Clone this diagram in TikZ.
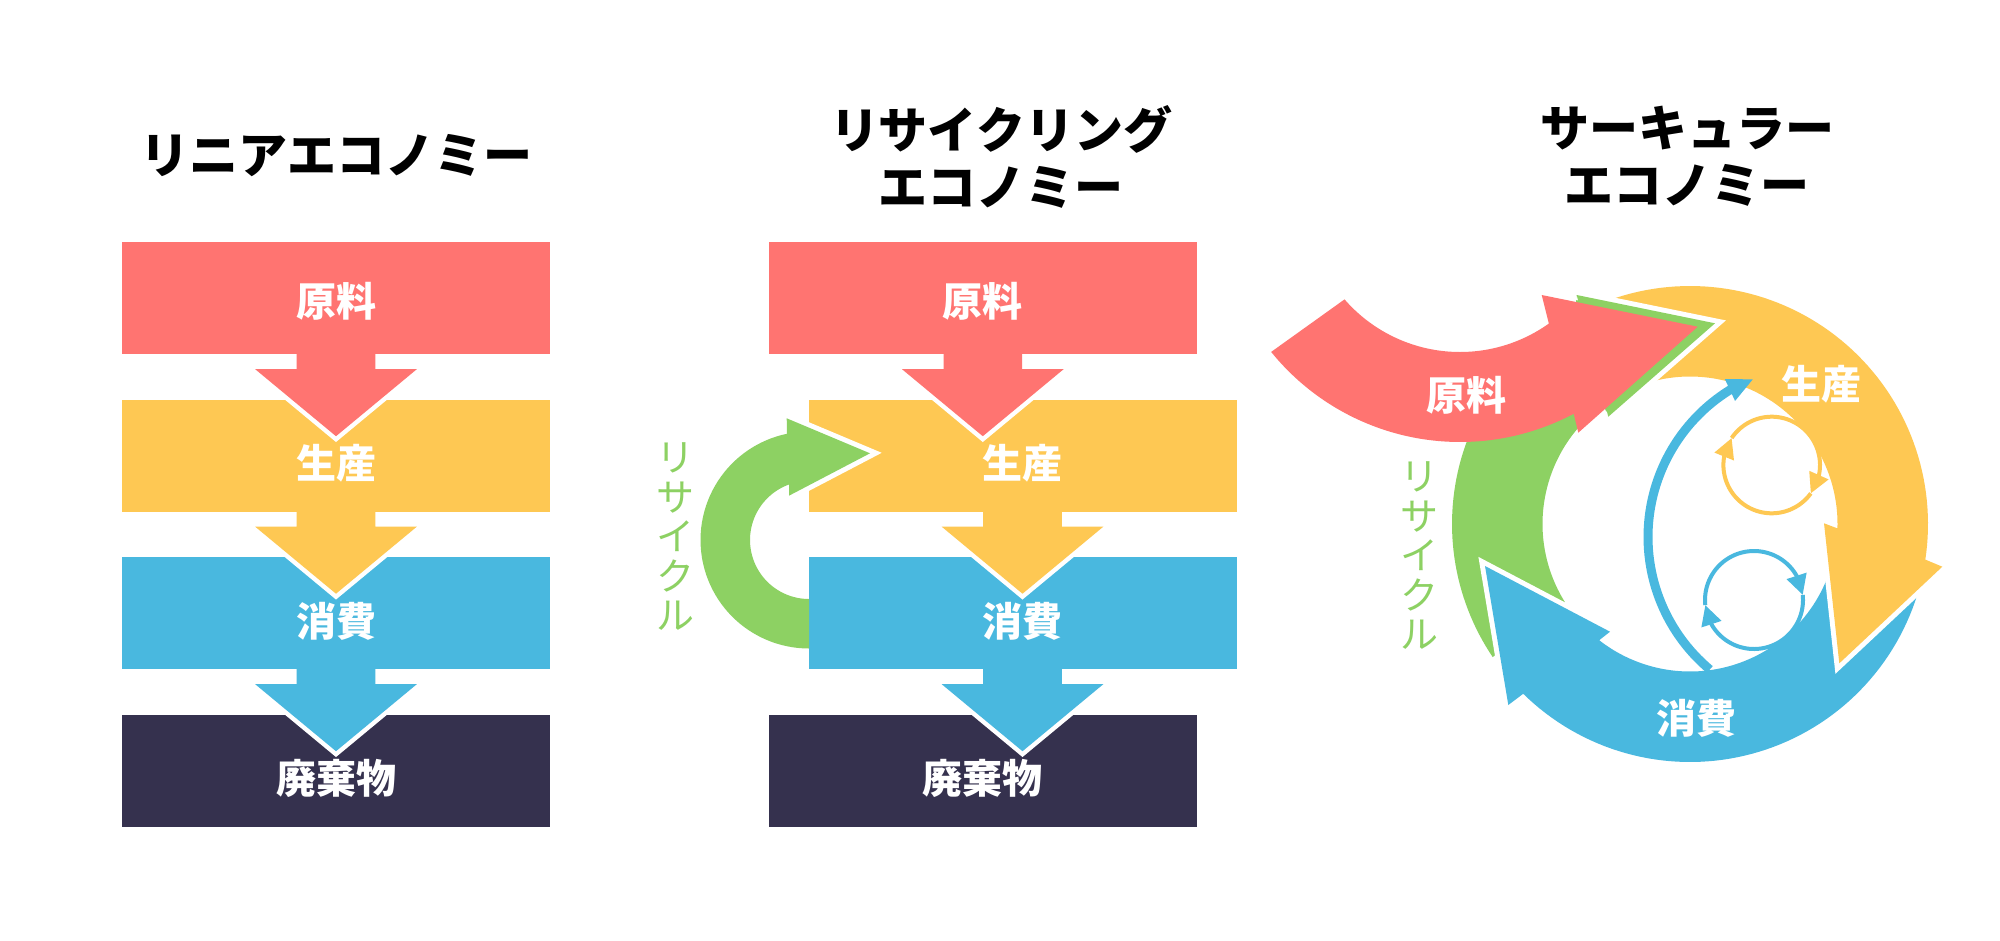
\documentclass[tikz,border=0pt]{standalone}
\usepackage{fontspec}
\newfontfamily\jp{Noto Sans CJK JP}
\usetikzlibrary{calc,arrows.meta}
\definecolor{cRed}{HTML}{FF7471}
\definecolor{cYel}{HTML}{FEC853}
\definecolor{cBlu}{HTML}{49B8DF}
\definecolor{cNav}{HTML}{35314E}
\definecolor{cGrn}{HTML}{8DD163}
\tikzset{
  box/.style={minimum width=428pt, minimum height=112pt, inner sep=0pt},
  ttl/.style={align=center, inner sep=0pt, text=black, font=\jp\bfseries\fontsize{49pt}{57pt}\selectfont},
  lbl/.style={inner sep=0pt, text=white, font=\jp\bfseries\fontsize{40pt}{40pt}\selectfont},
  vtxt/.style={align=center, inner sep=0pt, text=cGrn, font=\jp\fontsize{38pt}{39.5pt}\selectfont},
  rim/.style={white, line width=10pt, line join=miter},
}
\newcommand\flowarr[2]{%
  \draw[white, line width=9pt, line join=miter] ($(#1.south)+(-80.8,15)$) -- ($(#1.south)+(0,82)$) -- ($(#1.south)+(80.8,15)$);
  \fill[#2] ($(#1.south)+(-39.3,-1)$) -- ($(#1.south)+(-39.3,15)$) -- ($(#1.south)+(-80.8,15)$) -- ($(#1.south)+(0,82)$) -- ($(#1.south)+(80.8,15)$) -- ($(#1.south)+(39.3,15)$) -- ($(#1.south)+(39.3,-1)$) -- cycle;
}
\begin{document}
\begin{tikzpicture}[x=1pt,y=-1pt]
\useasboundingbox (0,0) rectangle (2000,940);
\fill[white] (0,0) rectangle (2000,940);

% titles
\node[ttl] (h1) at (336,156) {リニアエコノミー};
\node[ttl] (h2) at (1001,156.5) {リサイクリング\\エコノミー};
\node[ttl] (h3) at (1687,156.5) {サーキュラー\\エコノミー};

% ---------- panel 1: linear ----------
\node[box, fill=cRed] (a1) at (336,298) {};
\node[box, fill=cYel] (a2) at (336,455.5) {};
\node[box, fill=cBlu] (a3) at (336,613) {};
\node[box, fill=cNav] (a4) at (336,770.5) {};
\flowarr{a1}{cRed}
\flowarr{a2}{cYel}
\flowarr{a3}{cBlu}
\node[lbl] (la1) at ($(a1)+(0,3)$) {原料};
\node[lbl] (la2) at ($(a2)+(0,8)$) {生産};
\node[lbl] (la3) at ($(a3)+(0,8)$) {消費};
\node[lbl] (la4) at ($(a4)+(0,8)$) {廃棄物};

% ---------- panel 2: recycling ----------
\node[box, fill=cRed] (b1) at (982.8,298) {};
\node[box, fill=cYel] (b2) at (1022.5,455.5) {};
\node[box, fill=cBlu] (b3) at (1022.5,613) {};
\node[box, fill=cNav] (b4) at (982.8,770.5) {};
\flowarr{b1}{cRed}
\flowarr{b2}{cYel}
\flowarr{b3}{cBlu}
% recycle arrow
\coordinate (gbt) at (786.7,418.3);
\coordinate (gtip) at (870,453.3);
\coordinate (gbb) at (789,495.7);
\draw[rim] (gbt) -- (gtip) -- (gbb);
\fill[cGrn] plot[domain=90:258.3, samples=60, variable=\t] ({809+108.5*cos(\t)},{540+108.5*sin(\t)})
  -- (gbt) -- (gtip) -- (gbb)
  -- plot[domain=250.2:90, samples=60, variable=\t] ({809+59*cos(\t)},{540+59*sin(\t)}) -- cycle;
\node[lbl] (lb1) at ($(b1)+(0,3)$) {原料};
\node[lbl] (lb2) at ($(b2)+(0,8)$) {生産};
\node[lbl] (lb3) at ($(b3)+(0,8)$) {消費};
\node[lbl] (lb4) at ($(b4)+(0,8)$) {廃棄物};
\node[vtxt] (lb5) at (675,537) {リ\\サ\\イ\\ク\\ル};

% ---------- panel 3: circular ----------
% green recycle band
\coordinate (cgbt) at (1576.7,295);
\coordinate (cgtip) at (1715,323.3);
\coordinate (cgbb) at (1608.3,416.7);
\fill[cGrn] plot[domain=146:241, samples=60, variable=\t] ({1690+238*cos(\t)},{524+238*sin(\t)})
  -- (cgbt) -- (cgtip) -- (cgbb)
  -- plot[domain=234:148, samples=60, variable=\t] ({1690+147.5*cos(\t)},{524+147.5*sin(\t)}) -- cycle;
% blue consumption band
\coordinate (cbob) at (1508.3,705);
\coordinate (cbtip) at (1485,566);
\coordinate (cbib) at (1610,631.7);
\draw[rim] (cbob) -- (cbtip) -- (cbib);
\fill[cBlu] plot[domain=10:134.5, samples=70, variable=\t] ({1690+238*cos(\t)},{524+238*sin(\t)})
  -- (cbob) -- (cbtip) -- (cbib)
  -- plot[domain=128:10, samples=70, variable=\t] ({1690+147.5*cos(\t)},{524+147.5*sin(\t)}) -- cycle;
% yellow production band
\coordinate (cyob) at (1942.3,566.7);
\coordinate (cytip) at (1839.3,663.3);
\coordinate (cyib) at (1824,523.3);
\draw[rim] (cyob) -- (cytip) -- (cyib);
\fill[cYel] plot[domain=245:368.6, samples=70, variable=\t] ({1690+238*cos(\t)},{524+238*sin(\t)})
  -- (cyob) -- (cytip) -- (cyib)
  -- plot[domain=361.7:245, samples=70, variable=\t] ({1690+147.5*cos(\t)},{524+147.5*sin(\t)}) -- cycle;
% green head over yellow tail
\draw[rim] (cgbt) -- (cgtip) -- (cgbb);
\fill[cGrn] (cgbt) -- (cgtip) -- (cgbb) -- cycle;

% inner arrows
\draw[cBlu, line width=9pt, -{Triangle[length=26pt,width=22pt]}]
  plot[domain=130:238, samples=60, variable=\t] ({1821+173*cos(\t)},{537+173*sin(\t)}) -- (1753.5,379);
\draw[cYel, line width=4pt, -{Triangle[length=20pt,width=20pt]}]
  plot[domain=214:372, samples=50, variable=\t] ({1771.7+48.3*cos(\t)},{465+48.3*sin(\t)})
  -- ({1771.7+48.3*cos(396)},{465+48.3*sin(396)});
\draw[cYel, line width=4pt, -{Triangle[length=20pt,width=20pt]}]
  plot[domain=36:190, samples=50, variable=\t] ({1771.7+48.3*cos(\t)},{465+48.3*sin(\t)})
  -- ({1771.7+48.3*cos(214)},{465+48.3*sin(214)});
\draw[cBlu, line width=4pt, -{Triangle[length=20pt,width=20pt]}]
  plot[domain=174:330, samples=50, variable=\t] ({1754+49*cos(\t)},{600+49*sin(\t)})
  -- ({1754+49*cos(354)},{600+49*sin(354)});
\draw[cBlu, line width=4pt, -{Triangle[length=20pt,width=20pt]}]
  plot[domain=354:510, samples=50, variable=\t] ({1754+49*cos(\t)},{600+49*sin(\t)})
  -- ({1754+49*cos(534)},{600+49*sin(534)});

% red raw-material arrow
\fill[cRed] plot[domain=141:62.1, samples=70, variable=\t] ({1460+243*cos(\t)},{199+243*sin(\t)})
  -- (1578.3,432.7) -- (1697.7,326.7) -- (1541.7,295)
  -- plot[domain=54.5:139, samples=70, variable=\t] ({1460+153*cos(\t)},{199+153*sin(\t)}) -- cycle;

\node[lbl] (lc1) at (1466,395) {原料};
\node[lbl] (lc2) at (1821,384) {生産};
\node[lbl] (lc3) at (1696,718) {消費};
\node[vtxt] (lc4) at (1419,556) {リ\\サ\\イ\\ク\\ル};
\end{tikzpicture}
\end{document}
